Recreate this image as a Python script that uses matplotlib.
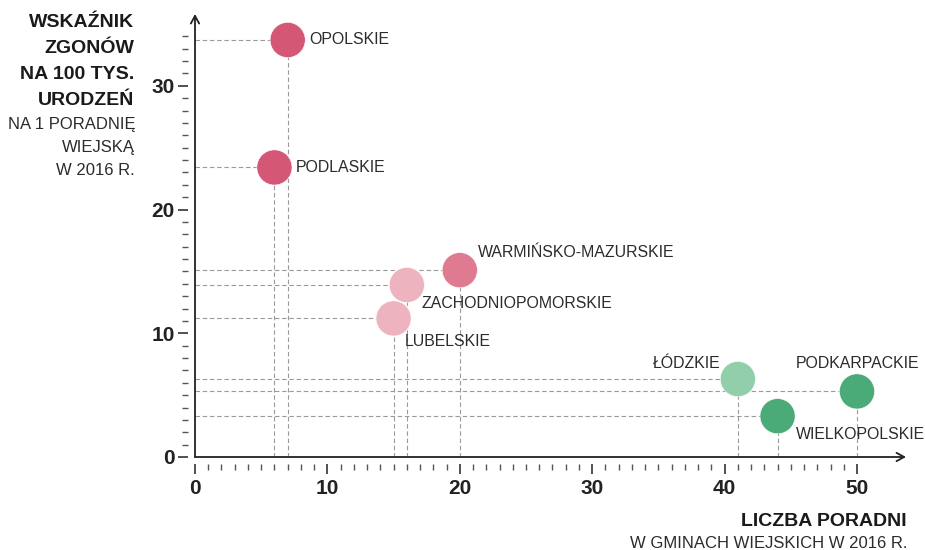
import matplotlib
matplotlib.use("Agg")
import matplotlib.pyplot as plt

plt.rcParams['font.family'] = ['Liberation Sans', 'DejaVu Sans']

# Data: number of rural counselling centres vs. deaths per 100k births per centre
regions = ["OPOLSKIE", "PODLASKIE", "WARMIŃSKO-MAZURSKIE", "ZACHODNIOPOMORSKIE",
           "LUBELSKIE", "ŁÓDZKIE", "PODKARPACKIE", "WIELKOPOLSKIE"]
centres = [7, 6, 20, 16, 15, 41, 50, 44]
deaths = [33.7, 23.4, 15.1, 13.9, 11.2, 6.3, 5.3, 3.3]
colors = ["#d45876", "#d45876", "#df7b90", "#edb4c0",
          "#edb4c0", "#90cfaa", "#4bab78", "#4bab78"]
# label offsets in pixels and alignment
label_pos = [(22, 0, "left"), (21, 0, "left"), (18, 18, "left"), (15, -19, "left"),
             (11, -23, "left"), (-17, 16, "right"), (0, 28, "center"), (18, -18, "left")]

x_ticks = [0, 10, 20, 30, 40, 50]
y_ticks = [0, 10, 20, 30]

XMAX, YMAX = 53.7, 35.8
ink = "#222222"

fig = plt.figure(figsize=(9.25, 5.5), dpi=100)
ax = fig.add_axes([195 / 925, (550 - 457) / 550, 711 / 925, 443 / 550])
ax.set_xlim(0, XMAX)
ax.set_ylim(0, YMAX)
ax.patch.set_alpha(0)

# ticks sit slightly away from the axis lines
for side in ("left", "bottom"):
    ax.spines[side].set_position(("outward", 5))
    ax.spines[side].set_visible(False)
for side in ("right", "top"):
    ax.spines[side].set_visible(False)

ax.set_xticks(x_ticks)
ax.set_yticks(y_ticks)
ax.set_xticks(range(0, 51), minor=True)
ax.set_yticks(range(0, 35), minor=True)
ax.tick_params(which="major", length=7.2, width=1.1, color=ink, pad=2.5,
               labelsize=15, labelcolor=ink)
ax.tick_params(axis="x", which="major", pad=3.5)
ax.tick_params(which="minor", length=4.3, width=1.0, color="#555555")
for lbl in ax.get_xticklabels() + ax.get_yticklabels():
    lbl.set_fontweight("bold")

# axis lines with open arrowheads
arrow = dict(arrowstyle="->,head_length=0.55,head_width=0.3", color=ink,
             lw=1.3, shrinkA=0, shrinkB=0)
ax.annotate("", xy=(XMAX, 0), xytext=(0, 0), xycoords="data",
            arrowprops=arrow, annotation_clip=False, zorder=5)
ax.annotate("", xy=(0, YMAX), xytext=(0, 0), xycoords="data",
            arrowprops=arrow, annotation_clip=False, zorder=5)

# dashed guides to each point
for x, y in zip(centres, deaths):
    ax.plot([0, x], [y, y], color="#9a9a9a", lw=0.8, ls=(0, (4, 2.5)), zorder=1)
    ax.plot([x, x], [0, y], color="#9a9a9a", lw=0.8, ls=(0, (4, 2.5)), zorder=1)

ax.scatter(centres, deaths, s=640, c=colors, edgecolors="white",
           linewidths=0.4, zorder=3, clip_on=False)

for name, x, y, (dx, dy, ha) in zip(regions, centres, deaths, label_pos):
    ax.annotate(name, (x, y), xytext=(dx, dy), textcoords="offset pixels",
                ha=ha, va="center", fontsize=11.4, color="#2b2b2b", zorder=4)

# y-axis title
fig.text(134 / 925, 1 - 14 / 550, "WSKAŹNIK\nZGONÓW\nNA 100 TYS.\nURODZEŃ",
         ha="right", va="top", fontsize=14, fontweight="bold", color="#1a1a1a",
         linespacing=1.68)
fig.text(135 / 925, 1 - 117 / 550, "NA 1 PORADNIĘ\nWIEJSKĄ\nW 2016 R.",
         ha="right", va="top", fontsize=12, color="#2b2b2b", linespacing=1.68)

# x-axis title
fig.text(907 / 925, 1 - 522 / 550, "LICZBA PORADNI", ha="right", va="center",
         fontsize=14, fontweight="bold", color="#1a1a1a")
fig.text(907 / 925, 1 - 543 / 550, "W GMINACH WIEJSKICH W 2016 R.", ha="right",
         va="center", fontsize=12, color="#2b2b2b")

fig.savefig("out.png", dpi=100)
